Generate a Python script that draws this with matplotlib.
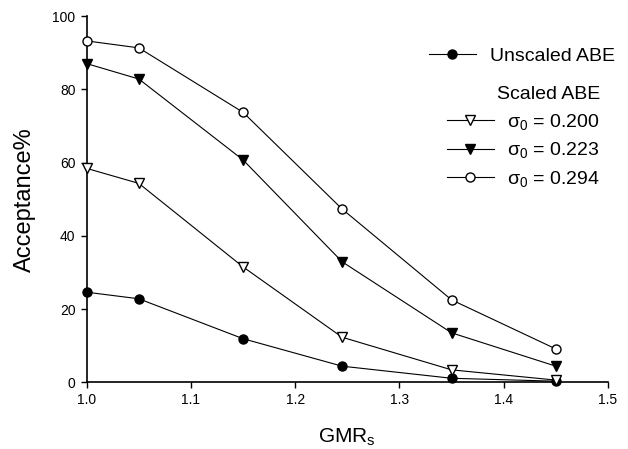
import matplotlib
matplotlib.use("Agg")
import matplotlib.pyplot as plt

plt.rcParams['font.family'] = ['Liberation Sans', 'DejaVu Sans']
plt.rcParams['mathtext.fontset'] = 'custom'
plt.rcParams['mathtext.rm'] = 'Liberation Sans'
plt.rcParams['mathtext.it'] = 'Liberation Sans'

gmr = [1.0, 1.05, 1.15, 1.245, 1.35, 1.45]
unscaled = [24.6, 22.8, 11.9, 4.4, 1.1, 0.3]
s200 = [58.4, 54.3, 31.5, 12.3, 3.4, 0.6]
s223 = [87.0, 82.8, 60.7, 32.9, 13.5, 4.4]
s294 = [93.2, 91.3, 73.7, 47.3, 22.5, 9.1]

xticks = [1.0, 1.1, 1.2, 1.3, 1.4, 1.5]
yticks = [0, 20, 40, 60, 80, 100]

fig = plt.figure(figsize=(6.28, 4.49), dpi=100)
ax = fig.add_axes([86.7/628, 1-382.3/449, (608-86.7)/628, (382.3-16)/449])

lw = 0.8
ms = 6.5
l_un, = ax.plot(gmr, unscaled, '-o', color='black', lw=lw, ms=ms, mfc='black', mec='black', clip_on=False, zorder=3)
l_200, = ax.plot(gmr, s200, '-v', color='black', lw=lw, ms=ms+1, mfc='white', mec='black', mew=1.0, clip_on=False, zorder=3)
l_223, = ax.plot(gmr, s223, '-v', color='black', lw=lw, ms=ms+1, mfc='black', mec='black', clip_on=False, zorder=3)
l_294, = ax.plot(gmr, s294, '-o', color='black', lw=lw, ms=ms, mfc='white', mec='black', mew=1.0, clip_on=False, zorder=3)

ax.set_xlim(1.0, 1.5)
ax.set_ylim(0, 100)
ax.set_xticks(xticks)
ax.set_xticklabels([f'{v:.1f}' for v in xticks])
ax.set_yticks(yticks)
for s in ['top', 'right']:
    ax.spines[s].set_visible(False)
for s in ['left', 'bottom']:
    ax.spines[s].set_linewidth(1.2)
ax.tick_params(direction='out', length=4, width=1, labelsize=10, pad=4)

ax.set_ylabel('Acceptance%', fontsize=17, labelpad=12)
ax.set_xlabel(r'GMR$_\mathregular{s}$', fontsize=15, labelpad=14)

fs = 14
leg1 = ax.legend([l_un], ['Unscaled ABE'], loc='center left',
                 bbox_to_anchor=(429/628, 1-56/449), bbox_transform=fig.transFigure,
                 frameon=False, fontsize=fs, handlelength=2.4, handletextpad=0.75,
                 borderpad=0, borderaxespad=0)
ax.add_artist(leg1)
leg2 = ax.legend([l_200, l_223, l_294],
                 [r'$\mathregular{\sigma_0}$ = 0.200', r'$\mathregular{\sigma_0}$ = 0.223', r'$\mathregular{\sigma_0}$ = 0.294'],
                 title='Scaled ABE', title_fontsize=fs, alignment='right',
                 loc='upper left', bbox_to_anchor=(447/628, 1-86/449), bbox_transform=fig.transFigure,
                 frameon=False, fontsize=fs, handlelength=2.4, handletextpad=0.7,
                 borderpad=0, borderaxespad=0, labelspacing=0.45)

fig.savefig('out.png', dpi=100)
